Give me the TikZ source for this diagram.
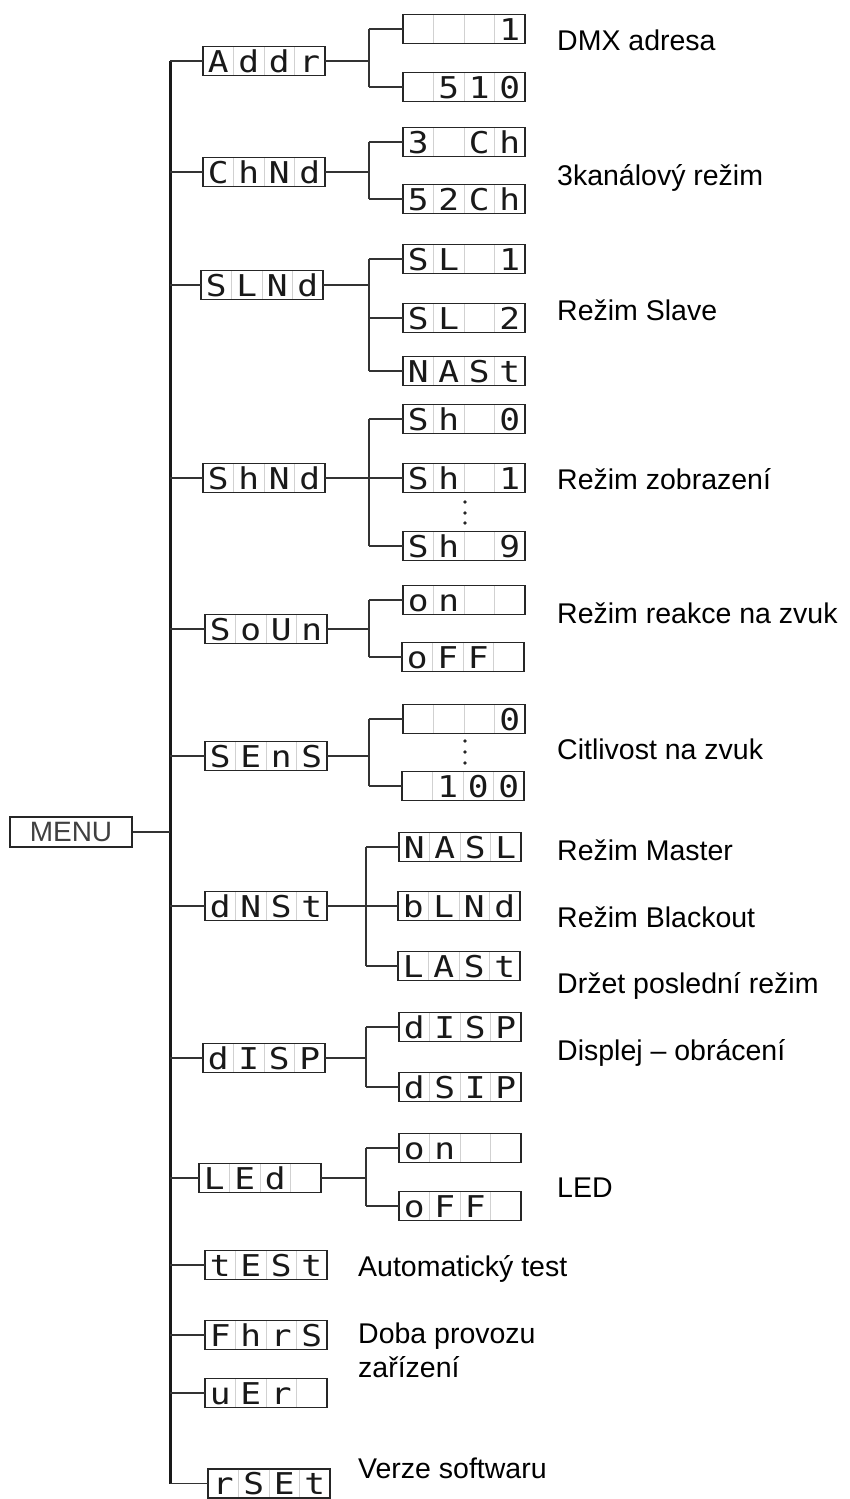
\documentclass[tikz,border=0pt]{standalone}
\usepackage{fontspec}
\setmainfont{Liberation Sans}
\newfontfamily\segfont[FakeStretch=1.15]{DejaVu Sans Mono}
\usetikzlibrary{calc}

\tikzset{
  lcdbox/.style={draw=black!85, line width=1.2pt, minimum width=122pt, minimum height=29pt, inner sep=0pt, outer sep=0pt},
  lcdsep/.style={draw=black!18, line width=0.8pt},
  lcdchar/.style={font=\segfont\fontsize{30}{30}\selectfont, text=black!90, inner sep=0pt, anchor=base},
  menubox/.style={draw=black!85, line width=1.2pt, minimum width=122pt, minimum height=30pt, inner sep=0pt, text=black!75, font=\fontsize{28}{28}\selectfont},
  wire/.style={line width=1.2pt, draw=black!80},
  busline/.style={line width=3pt, draw=black!90},
  lbl/.style={anchor=base west, inner sep=0pt, font=\fontsize{28.5}{34}\selectfont}
}

% display with four cells: name, west x, centre y, characters
\newcommand{\lcd}[4]{%
  \node[lcdbox, anchor=west] (#1) at (#2,#3) {};
  \foreach \k in {1,2,3}
    \draw[lcdsep] ($(#1.north west)+(\k*30.5,0.7)$) -- ($(#1.south west)+(\k*30.5,-0.7)$);
  \foreach \ch [count=\k] in {#4}
    \node[lcdchar] (#1-\k) at ($(#1.west)+(\k*30.5-15.25,11)$) {\ch};
}

\begin{document}
\begin{tikzpicture}[x=1pt, y=-1pt]
\useasboundingbox (0,0) rectangle (850,1499);
\coordinate (bus) at (170,0);
\coordinate (br) at (369,0);
\coordinate (br2) at (366,0);

\node[menubox] (menu) at (71,832) {MENU};

% first level
\lcd{addr}{203}{61}{A,d,d,r}
\lcd{chnd}{203}{172}{C,h,N,d}
\lcd{slnd}{201}{285}{S,L,N,d}
\lcd{shnd}{203}{478}{S,h,N,d}
\lcd{soun}{205}{629}{S,o,U,n}
\lcd{sens}{205}{756}{S,E,n,S}
\lcd{dnst}{205}{906}{d,N,S,t}
\lcd{disp}{203}{1058}{d,I,S,P}
\lcd{led}{199}{1178}{L,E,d, }
\lcd{test}{205}{1265}{t,E,S,t}
\lcd{fhrs}{205}{1335}{F,h,r,S}
\lcd{ver}{205}{1393}{u,E,r, }
\lcd{rset}{208}{1483.5}{r,S,E,t}

% second level
\lcd{addr1}{403}{29}{ , , ,1}
\lcd{addr2}{403}{87}{ ,5,1,0}
\lcd{chnd1}{403}{142}{3, ,C,h}
\lcd{chnd2}{403}{199}{5,2,C,h}
\lcd{slnd1}{403}{259}{S,L, ,1}
\lcd{slnd2}{403}{318}{S,L, ,2}
\lcd{slnd3}{403}{371}{N,A,S,t}
\lcd{shnd0}{403}{419}{S,h, ,0}
\lcd{shnd1}{403}{478}{S,h, ,1}
\lcd{shnd9}{403}{546}{S,h, ,9}
\lcd{soun1}{403}{600}{o,n, , }
\lcd{soun2}{402}{657}{o,F,F, }
\lcd{sens0}{403}{719}{ , , ,0}
\lcd{sens100}{402}{786}{ ,1,0,0}
\lcd{dnst1}{399}{847}{N,A,S,L}
\lcd{dnst2}{398}{906}{b,L,N,d}
\lcd{dnst3}{398}{966}{L,A,S,t}
\lcd{disp1}{399}{1027}{d,I,S,P}
\lcd{disp2}{399}{1087}{d,S,I,P}
\lcd{led1}{399}{1148}{o,n, , }
\lcd{led2}{399}{1206}{o,F,F, }

% bus
\draw[busline] (addr.west -| bus) -- (rset.west -| bus);
\draw[wire] (menu.east) -- (menu.east -| bus);
\foreach \n in {addr,chnd,slnd,shnd,soun,sens,dnst,disp,led,test,fhrs,ver,rset}
  \draw[wire] (\n.west -| bus) -- (\n.west);

% branches
\foreach \p/\a/\b in {addr/addr1/addr2, chnd/chnd1/chnd2, slnd/slnd1/slnd3, shnd/shnd0/shnd9, soun/soun1/soun2, sens/sens0/sens100}
  \draw[wire] (\p.east) -- (\p.east -| br) (\a.west -| br) -- (\b.west -| br);
\foreach \c in {addr1,addr2,chnd1,chnd2,slnd1,slnd2,slnd3,shnd0,shnd1,shnd9,soun1,soun2,sens0,sens100}
  \draw[wire] (\c.west -| br) -- (\c.west);
\foreach \p/\a/\b in {dnst/dnst1/dnst3, disp/disp1/disp2, led/led1/led2}
  \draw[wire] (\p.east) -- (\p.east -| br2) (\a.west -| br2) -- (\b.west -| br2);
\foreach \c in {dnst1,dnst2,dnst3,disp1,disp2,led1,led2}
  \draw[wire] (\c.west -| br2) -- (\c.west);

% dots
\foreach \y in {502,513,523,741,752,763}
  \fill[black!85] (465,\y) circle (1.8pt);

% texts
\node[lbl] (t-addr) at (557,50) {DMX adresa};
\node[lbl] (t-chnd) at (557,185) {3kanálový režim};
\node[lbl] (t-slnd) at (557,320) {Režim Slave};
\node[lbl] (t-shnd) at (557,489) {Režim zobrazení};
\node[lbl] (t-soun) at (557,623) {Režim reakce na zvuk};
\node[lbl] (t-sens) at (557,759) {Citlivost na zvuk};
\node[lbl] (t-dnst1) at (557,860) {Režim Master};
\node[lbl] (t-dnst2) at (557,927) {Režim Blackout};
\node[lbl] (t-dnst3) at (557,993) {Držet poslední režim};
\node[lbl] (t-disp) at (557,1060) {Displej – obrácení};
\node[lbl] (t-led) at (557,1197) {LED};
\node[lbl] (t-test) at (358,1276) {Automatický test};
\node[lbl] (t-fhrs) at (358,1343) {Doba provozu};
\node[lbl] (t-fhrs2) at (358,1377) {zařízení};
\node[lbl] (t-ver) at (358,1478) {Verze softwaru};
\end{tikzpicture}
\end{document}
